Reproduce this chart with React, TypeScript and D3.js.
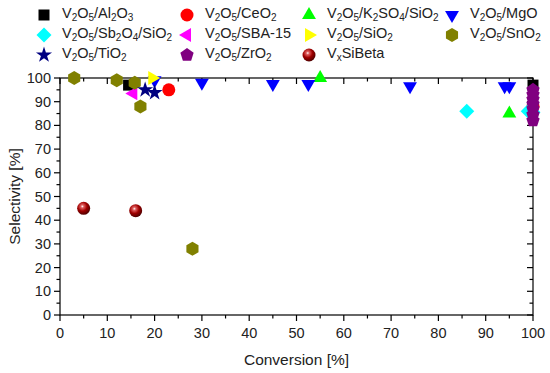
import * as d3 from 'd3'

const W = 550
const H = 373
const M = { top: 78, right: 17, bottom: 58, left: 60 }

type Pt = [number, number]

const al2o3: Pt[] = [[14.5, 97], [100, 97]]
const ceo2: Pt[] = [[23, 95], [100, 88]]
const k2so4: Pt[] = [[55, 100], [95, 85]]
const mgo: Pt[] = [[20, 99], [30, 98], [45, 97.5], [52.5, 97.5], [74, 96.5], [94, 96.5], [95, 96.5]]
const sb2o4: Pt[] = [[86, 86], [99, 86], [100, 85.5]]
const sba15: Pt[] = [[15.5, 93.5]]
const sio2: Pt[] = [[19.5, 100]]
const sno2: Pt[] = [[3, 100], [12, 99], [15.8, 98], [17, 88], [28, 28]]
const tio2: Pt[] = [[18, 95], [20, 93.8]]
const zro2: Pt[] = [[100, 95], [100, 93], [100, 91], [100, 89], [100, 87], [100, 84.5], [100, 82]]
const vxsibeta: Pt[] = [[5, 45], [16, 44]]

const xTicks = [0, 10, 20, 30, 40, 50, 60, 70, 80, 90, 100]
const yTicks = [0, 10, 20, 30, 40, 50, 60, 70, 80, 90, 100]

type Shape = 'square' | 'circle' | 'up' | 'down' | 'diamond' | 'left' | 'right' | 'hex' | 'star' | 'pent' | 'sphere'

interface Series {
  key: string
  label: [string, boolean][]
  shape: Shape
  color: string
  data: Pt[]
}

const sub = (s: string): [string, boolean] => [s, true]
const txt = (s: string): [string, boolean] => [s, false]

const series: Series[] = [
  { key: 'al', label: [txt('V'), sub('2'), txt('O'), sub('5'), txt('/Al'), sub('2'), txt('O'), sub('3')], shape: 'square', color: '#000000', data: al2o3 },
  { key: 'ce', label: [txt('V'), sub('2'), txt('O'), sub('5'), txt('/CeO'), sub('2')], shape: 'circle', color: '#ff0000', data: ceo2 },
  { key: 'k', label: [txt('V'), sub('2'), txt('O'), sub('5'), txt('/K'), sub('2'), txt('SO'), sub('4'), txt('/SiO'), sub('2')], shape: 'up', color: '#00ff00', data: k2so4 },
  { key: 'mg', label: [txt('V'), sub('2'), txt('O'), sub('5'), txt('/MgO')], shape: 'down', color: '#0000ff', data: mgo },
  { key: 'sb', label: [txt('V'), sub('2'), txt('O'), sub('5'), txt('/Sb'), sub('2'), txt('O'), sub('4'), txt('/SiO'), sub('2')], shape: 'diamond', color: '#00ffff', data: sb2o4 },
  { key: 'sba', label: [txt('V'), sub('2'), txt('O'), sub('5'), txt('/SBA-15')], shape: 'left', color: '#ff00ff', data: sba15 },
  { key: 'si', label: [txt('V'), sub('2'), txt('O'), sub('5'), txt('/SiO'), sub('2')], shape: 'right', color: '#ffff00', data: sio2 },
  { key: 'sn', label: [txt('V'), sub('2'), txt('O'), sub('5'), txt('/SnO'), sub('2')], shape: 'hex', color: '#808000', data: sno2 },
  { key: 'ti', label: [txt('V'), sub('2'), txt('O'), sub('5'), txt('/TiO'), sub('2')], shape: 'star', color: '#000080', data: tio2 },
  { key: 'zr', label: [txt('V'), sub('2'), txt('O'), sub('5'), txt('/ZrO'), sub('2')], shape: 'pent', color: '#800080', data: zro2 },
  { key: 'vx', label: [txt('V'), sub('x'), txt('SiBeta')], shape: 'sphere', color: '#a00000', data: vxsibeta },
]

// legend grid: column x of marker, row y
const legendCols = [44, 187, 309, 452]
const legendRows = [15, 35, 55]

function polygon(n: number, r: number, rot: number) {
  const pts = d3.range(n).map((i) => {
    const a = rot + (i * 2 * Math.PI) / n
    return [r * Math.sin(a), -r * Math.cos(a)]
  })
  return 'M' + pts.map((p) => p.map((v) => v.toFixed(2)).join(',')).join('L') + 'Z'
}

function shapePath(shape: Shape): string {
  switch (shape) {
    case 'square':
      return 'M-5.5,-5.5H5.5V5.5H-5.5Z'
    case 'up':
      return polygon(3, 8, 0)
    case 'down':
      return polygon(3, 8, Math.PI)
    case 'left':
      return polygon(3, 8, -Math.PI / 2)
    case 'right':
      return polygon(3, 8, Math.PI / 2)
    case 'diamond':
      return polygon(4, 7.5, 0)
    case 'hex':
      return polygon(6, 7, 0)
    case 'pent':
      return polygon(5, 7, 0)
    case 'star':
      return d3.symbol().type(d3.symbolStar).size(80)() ?? ''
    default:
      return ''
  }
}

function Marker({ shape, color, x, y }: { shape: Shape; color: string; x: number; y: number }) {
  if (shape === 'circle') return <circle cx={x} cy={y} r={6.5} fill={color} />
  if (shape === 'sphere') return <circle cx={x} cy={y} r={6.5} fill="url(#sphereGrad)" />
  return <path d={shapePath(shape)} transform={`translate(${x},${y})`} fill={color} />
}

function Label({ parts, x, y }: { parts: [string, boolean][]; x: number; y: number }) {
  return (
    <text x={x} y={y} fontSize={14.5} fill="#222" dominantBaseline="middle">
      {parts.map(([s, isSub], i) =>
        isSub ? (
          <tspan key={i} fontSize={10} dy={4}>
            {s}
          </tspan>
        ) : (
          <tspan key={i} dy={i > 0 && parts[i - 1][1] ? -4 : 0}>
            {s}
          </tspan>
        ),
      )}
    </text>
  )
}

export default function App() {
  const iw = W - M.left - M.right
  const ih = H - M.top - M.bottom
  const x = d3.scaleLinear().domain([0, 100]).range([0, iw])
  const y = d3.scaleLinear().domain([0, 100]).range([ih, 0])
  const minor = d3.range(5, 100, 10)

  return (
    <svg width={W} height={H} style={{ position: 'absolute', left: 0, top: 0, fontFamily: 'Liberation Sans, Arial, sans-serif' }}>
      <defs>
        <radialGradient id="sphereGrad" cx="0.4" cy="0.35" r="0.65">
          <stop offset="0" stopColor="#ffffff" />
          <stop offset="0.18" stopColor="#e06060" />
          <stop offset="0.55" stopColor="#a00000" />
          <stop offset="1" stopColor="#500000" />
        </radialGradient>
      </defs>
      <rect width={W} height={H} fill="#fff" />

      {series.map((s, i) => {
        const col = legendCols[i % 4]
        const row = legendRows[Math.floor(i / 4)]
        return (
          <g key={s.key}>
            <Marker shape={s.shape} color={s.color} x={col} y={row} />
            <Label parts={s.label} x={col + 18} y={row - 1} />
          </g>
        )
      })}

      <g transform={`translate(${M.left},${M.top})`}>
        <rect x={0} y={0} width={iw} height={ih} fill="none" stroke="#000" strokeWidth={1.2} />
        {xTicks.map((t) => (
          <g key={'x' + t}>
            <line x1={x(t)} x2={x(t)} y1={ih} y2={ih + 6} stroke="#000" strokeWidth={1.2} />
            <line x1={x(t)} x2={x(t)} y1={0} y2={6} stroke="#000" strokeWidth={1.2} />
            <text x={x(t)} y={ih + 23} textAnchor="middle" fontSize={14.5} fill="#222">
              {t}
            </text>
          </g>
        ))}
        {minor.map((t) => (
          <g key={'mx' + t}>
            <line x1={x(t)} x2={x(t)} y1={ih} y2={ih + 3.5} stroke="#000" strokeWidth={1.2} />
            <line x1={x(t)} x2={x(t)} y1={0} y2={3.5} stroke="#000" strokeWidth={1.2} />
            <line x1={0} x2={-3.5} y1={y(t)} y2={y(t)} stroke="#000" strokeWidth={1.2} />
            <line x1={iw} x2={iw - 3.5} y1={y(t)} y2={y(t)} stroke="#000" strokeWidth={1.2} />
          </g>
        ))}
        {yTicks.map((t) => (
          <g key={'y' + t}>
            <line x1={0} x2={-6} y1={y(t)} y2={y(t)} stroke="#000" strokeWidth={1.2} />
            <line x1={iw} x2={iw - 6} y1={y(t)} y2={y(t)} stroke="#000" strokeWidth={1.2} />
            <text x={-9} y={y(t)} textAnchor="end" dominantBaseline="central" fontSize={14.5} fill="#222">
              {t}
            </text>
          </g>
        ))}
        <text x={iw / 2} y={ih + 50} textAnchor="middle" fontSize={15.5} fill="#222">
          Conversion [%]
        </text>
        <text transform={`translate(-40,${ih / 2}) rotate(-90)`} textAnchor="middle" fontSize={15.5} fill="#222">
          Selectivity [%]
        </text>

        {series.map((s) => (
          <g key={s.key}>
            {s.data.map(([cx, cy], j) => (
              <Marker key={j} shape={s.shape} color={s.color} x={x(cx)} y={y(cy)} />
            ))}
          </g>
        ))}
      </g>
    </svg>
  )
}
